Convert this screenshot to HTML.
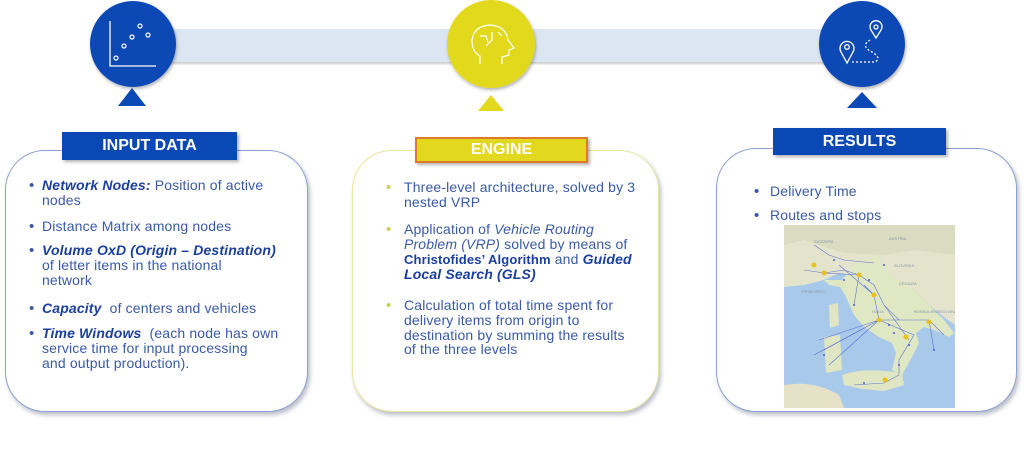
<!DOCTYPE html>
<html><head><meta charset="utf-8">
<style>
body{margin:0;width:1024px;height:469px;background:#fff;position:relative;overflow:hidden;font-family:"Liberation Sans",sans-serif;}
.a{position:absolute}
.box{position:absolute;background:#fff;border-radius:40px;box-shadow:2px 3px 4px rgba(60,70,100,.35);}
.lbl{position:absolute;color:#fff;font-weight:bold;font-size:16px;text-align:center;box-shadow:2px 2px 3px rgba(0,0,0,.3);}
.t{position:absolute;font-size:14px;line-height:14.8px;color:#3a5aa8;white-space:nowrap;letter-spacing:.15px}
.t b{color:#1a3f9e;font-style:italic}
.bul{position:absolute;font-size:15px;color:#3a5aa8}
.ybul{position:absolute;font-size:15px;color:#c9cf5a}
</style></head><body>
<div class="a" style="left:170px;top:29px;width:660px;height:33px;background:#dce6f3;box-shadow:0 2px 2px rgba(0,0,0,.2)"></div>

<svg class="a" style="left:0;top:0" width="1024" height="120">
<defs><filter id="s"><feDropShadow dx="1" dy="2" stdDeviation="1.5" flood-opacity=".3"/></filter></defs>
<circle cx="133" cy="44" r="43" fill="#0a49b5" filter="url(#s)"/>
<polyline points="110,21 110,66 156,66" fill="none" stroke="#fff" stroke-width="1.3"/>
<g fill="none" stroke="#fff" stroke-width="1.2"><circle cx="116" cy="58" r="2"/><circle cx="124" cy="46" r="2"/><circle cx="132" cy="37" r="2"/><circle cx="140" cy="26" r="2"/><circle cx="148" cy="35" r="2"/></g>
<polygon points="118,106 132,88 146,106" fill="#0a49b5"/>
<circle cx="491" cy="44" r="44" fill="#e2d81e" filter="url(#s)"/>
<g fill="none" stroke="#fff" stroke-width="1.2"><path d="M480,64 L480,56 Q472,52 472,40 Q474,26 490,25 Q506,26 508,40 L514,48 L509,50 L509,55 L502,57 L502,64"/><path d="M480,36 L486,36 L488,42 M492,32 L492,40 L486,46 M498,32 L502,36"/></g>
<polygon points="478,111 491,95 504,111" fill="#e2d81e"/>
<circle cx="862" cy="44" r="43" fill="#0a49b5" filter="url(#s)"/>
<g fill="none" stroke="#fff" stroke-width="1.3"><path d="M847,63 L841,52 A7,7 0 1,1 853,52 Z"/><circle cx="847" cy="47" r="2.3"/><path d="M876,38 L871,30 A6,6 0 1,1 881,30 Z"/><circle cx="876" cy="27" r="2"/><path d="M852,62 L875,62 Q882,58 872,52 Q860,46 870,40" stroke-dasharray="2,2"/></g>
<polygon points="847,108 862,92 877,108" fill="#0a49b5"/>
</svg>

<div class="box" style="left:5px;top:150px;width:301px;height:260px;border:1.5px solid #8aa2d2"></div>
<div class="lbl" style="left:62px;top:132px;width:175px;height:28px;line-height:28px;background:#0a49b5">INPUT DATA</div>
<div class="bul" style="left:29px;top:177px">•</div><div class="t" style="left:42px;top:178px"><b>Network Nodes:</b> Position of active<br>nodes</div>
<div class="bul" style="left:29px;top:218px">•</div><div class="t" style="left:42px;top:219px">Distance Matrix among nodes</div>
<div class="bul" style="left:29px;top:242px">•</div><div class="t" style="left:42px;top:243px"><b>Volume OxD (Origin – Destination)</b><br>of letter items in the national<br>network</div>
<div class="bul" style="left:29px;top:300px">•</div><div class="t" style="left:42px;top:301px"><b>Capacity</b>&nbsp; of centers and vehicles</div>
<div class="bul" style="left:29px;top:325px">•</div><div class="t" style="left:42px;top:326px"><b>Time Windows</b>&nbsp; (each node has own<br>service time for input processing<br>and output production).</div>

<div class="box" style="left:352px;top:150px;width:305px;height:260px;border:1.5px solid #e8e6a0"></div>
<div class="lbl" style="left:415px;top:137px;width:169px;height:22px;line-height:22px;background:#e2d81e;border:2px solid #e07a2a">ENGINE</div>
<div class="ybul" style="left:386px;top:179px">•</div><div class="t" style="left:404px;top:180px">Three-level architecture, solved by 3<br>nested VRP</div>
<div class="ybul" style="left:386px;top:221px">•</div><div class="t" style="left:404px;top:222px">Application of <i>Vehicle Routing</i><br><i>Problem (VRP)</i> solved by means of<br><span style="color:#1a3f9e;font-weight:bold;font-size:13px">Christofides’ Algorithm</span> and <b>Guided</b><br><b>Local Search (GLS)</b></div>
<div class="ybul" style="left:386px;top:297px">•</div><div class="t" style="left:404px;top:298px">Calculation of total time spent for<br>delivery items from origin to<br>destination by summing the results<br>of the three levels</div>

<div class="box" style="left:716px;top:148px;width:299px;height:262px;border:1.5px solid #8aa2d2"></div>
<div class="lbl" style="left:773px;top:128px;width:173px;height:27px;line-height:27px;background:#0a49b5">RESULTS</div>
<div class="bul" style="left:754px;top:183px">•</div><div class="t" style="left:770px;top:184px">Delivery Time</div>
<div class="bul" style="left:754px;top:207px">•</div><div class="t" style="left:770px;top:208px">Routes and stops</div>

<svg class="a" style="left:784px;top:225px" width="171" height="183">
<rect width="171" height="183" fill="#a9c9ea"/>
<path d="M0,0 H171 V100 L160,92 L145,80 L130,65 L115,55 L100,45 L95,30 L85,35 L75,45 L65,50 L55,48 L40,55 L20,60 L0,62 Z" fill="#e4e4cc"/>
<path d="M0,0 H171 V30 L130,25 L100,30 L60,28 L20,15 L0,20 Z" fill="#d9dcc0"/>
<path d="M70,40 L95,30 L100,45 L115,55 L130,65 L145,80 L160,95 L170,108 L165,112 L150,105 L140,102 L132,108 L135,118 L128,132 L118,150 L108,145 L112,128 L108,118 L95,112 L80,102 L70,90 L62,72 L58,55 Z" fill="#dfe8c2"/>
<path d="M40,55 L58,55 L62,72 L56,62 L45,60 Z" fill="#dfe8c2"/>
<path d="M58,150 Q80,142 118,148 L120,160 L100,166 L78,164 L60,160 Z" fill="#e0e6c4"/>
<path d="M0,160 Q30,155 55,170 L60,183 L0,183 Z" fill="#e6e2c8"/>
<path d="M45,80 L54,78 L55,100 L46,103 Z" fill="#e0e6c4"/>
<path d="M40,112 L56,110 L58,145 L42,148 Z" fill="#e0e6c4"/>
<g fill="#8a96a8" font-size="4" font-family="Liberation Sans"><text x="30" y="18">SVIZZERA</text><text x="105" y="15">AUSTRIA</text><text x="110" y="42">SLOVENIA</text><text x="115" y="60">CROAZIA</text><text x="130" y="88">BOSNIA-ERZEGOVINA</text><text x="18" y="68">PRINCIPATO</text><text x="88" y="88">ITALIA</text></g>
<g stroke="#4a5ed8" stroke-width=".6" fill="none" opacity=".85"><path d="M20,45 L40,48 L75,50 L90,60 L100,80 L115,95 L145,95 L160,110 M40,48 L60,45 L75,50 M80,60 L90,70 L95,95 L115,95 M95,95 L130,110 L115,135 L115,150 L100,158 L70,160 M95,95 L35,115 M95,95 L30,130 M95,95 L40,125 M95,95 L45,140 M30,20 L45,30 L60,35 L90,38 M75,50 L70,80 M55,40 L90,70 M100,80 L125,115 M145,95 L150,125"/></g>
<g fill="#4a5ed8"><circle cx="30" cy="40" r="1"/><circle cx="50" cy="35" r="1"/><circle cx="60" cy="55" r="1"/><circle cx="85" cy="55" r="1"/><circle cx="70" cy="80" r="1"/><circle cx="105" cy="100" r="1"/><circle cx="125" cy="120" r="1"/><circle cx="150" cy="125" r="1"/><circle cx="40" cy="130" r="1"/><circle cx="115" cy="140" r="1"/><circle cx="80" cy="158" r="1"/><circle cx="100" cy="40" r="1"/><circle cx="110" cy="108" r="1"/></g>
<g fill="#e8c020"><circle cx="40" cy="48" r="2.5"/><circle cx="75" cy="50" r="2.5"/><circle cx="90" cy="70" r="2.5"/><circle cx="95" cy="95" r="2.5"/><circle cx="122" cy="112" r="2.5"/><circle cx="145" cy="97" r="2.5"/><circle cx="101" cy="155" r="2.5"/><circle cx="30" cy="40" r="2.5"/></g>
</svg>
</body></html>
